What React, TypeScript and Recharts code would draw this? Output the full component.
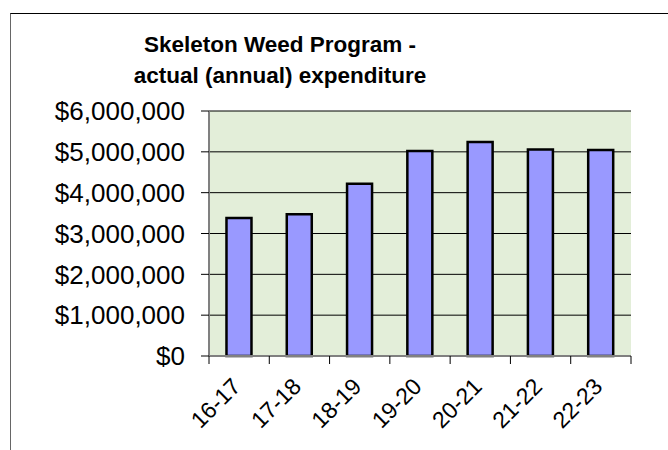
import { BarChart, Bar, XAxis, YAxis, CartesianGrid } from 'recharts';

const categories = ['16-17', '17-18', '18-19', '19-20', '20-21', '21-22', '22-23'];
const expenditure = [3380000, 3470000, 4220000, 5020000, 5240000, 5060000, 5045000];
const yTicks = [0, 1000000, 2000000, 3000000, 4000000, 5000000, 6000000];

const data = categories.map((year, i) => ({ year, value: expenditure[i] }));

const FONT = '"Liberation Sans", Arial, sans-serif';

const money = (v: number) => '$' + v.toLocaleString('en-US');

// tick marks sit on category boundaries, labels rotated under the centres
function YearTick(props: any) {
  const { x, y, payload, index } = props;
  const half = payload.offset ?? 0;
  const tx = x + 3;
  const ty = y + 32;
  return (
    <g>
      <line x1={x - half} y1={y} x2={x - half} y2={y + 8} stroke="#000" />
      {index === categories.length - 1 && (
        <line x1={x + half} y1={y} x2={x + half} y2={y + 8} stroke="#000" />
      )}
      <text
        x={tx}
        y={ty}
        textAnchor="end"
        fontSize={23}
        fontFamily={FONT}
        fill="#000"
        transform={`rotate(-45, ${tx}, ${ty})`}
      >
        {payload.value}
      </text>
    </g>
  );
}

export default function App() {
  return (
    <div style={{ position: 'absolute', left: 0, top: 0, width: 668, height: 450, overflow: 'hidden', background: '#fff' }}>
      <div
        style={{
          position: 'absolute',
          left: 10,
          top: 13,
          width: 700,
          height: 500,
          borderTop: '1.5px solid #000',
          borderLeft: '1.5px solid #666',
        }}
      />
      <div
        style={{
          position: 'absolute',
          left: 0,
          top: 29,
          width: 560,
          textAlign: 'center',
          fontFamily: FONT,
          fontWeight: 'bold',
          fontSize: 22.5,
          lineHeight: '31px',
          color: '#000',
        }}
      >
        Skeleton Weed Program -<br />actual (annual) expenditure
      </div>
      <div style={{ position: 'absolute', left: 0, top: 0 }}>
        <BarChart
          width={668}
          height={450}
          data={data}
          margin={{ top: 111, right: 37, bottom: 0, left: 0 }}
          barCategoryGap="29%"
        >
          <CartesianGrid horizontal vertical={false} stroke="#000" fill="#E3EED9" fillOpacity={1} />
          <XAxis
            dataKey="year"
            height={94}
            interval={0}
            tickLine={false}
            tickSize={0}
            tickMargin={0}
            axisLine={{ stroke: '#808080', strokeWidth: 2 }}
            tick={<YearTick />}
          />
          <XAxis xAxisId="top" dataKey="year" orientation="top" height={0} tick={false} tickLine={false} axisLine={{ stroke: '#808080', strokeWidth: 2 }} />
          <YAxis
            width={209}
            domain={[0, 6000000]}
            ticks={yTicks}
            interval={0}
            tickFormatter={money}
            tickSize={8}
            tickMargin={16}
            tickLine={{ stroke: '#000' }}
            axisLine={{ stroke: '#808080', strokeWidth: 2 }}
            tick={{ fill: '#000', fontSize: 26, fontFamily: FONT }}
          />
          <YAxis yAxisId="right" orientation="right" width={0} domain={[0, 6000000]} tick={false} tickLine={false} axisLine={{ stroke: '#808080', strokeWidth: 2 }} />
          <Bar dataKey="value" fill="#9999FF" stroke="#000" strokeWidth={2.5} isAnimationActive={false} />
        </BarChart>
      </div>
    </div>
  );
}
